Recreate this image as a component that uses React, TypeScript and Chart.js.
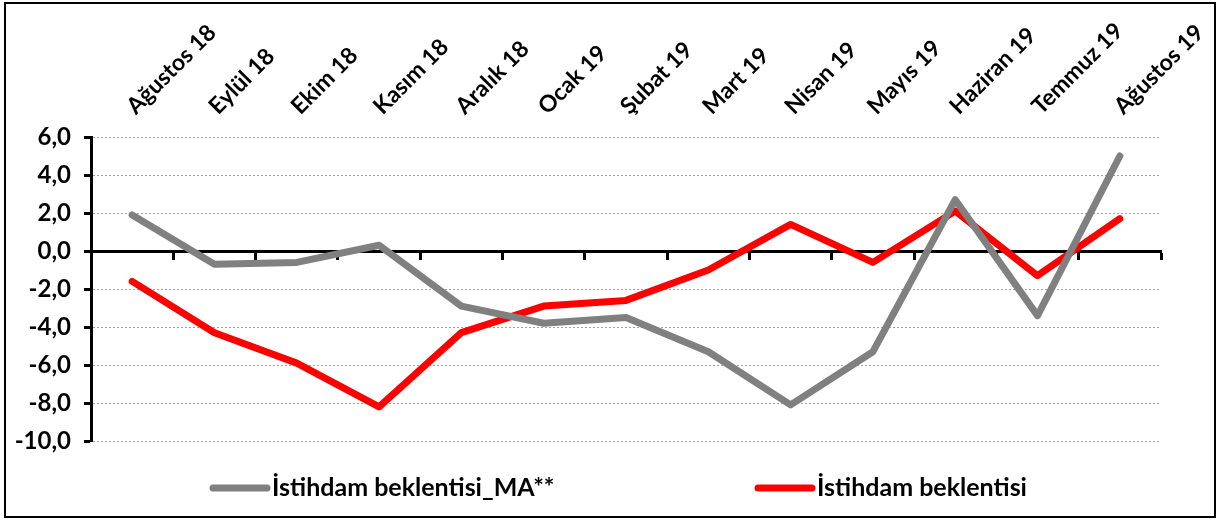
import React, { useEffect, useRef } from "react";
import { Chart, registerables } from "chart.js";

Chart.register(...registerables);

const categories = [
  "Ağustos 18", "Eylül 18", "Ekim 18", "Kasım 18", "Aralık 18", "Ocak 19",
  "Şubat 19", "Mart 19", "Nisan 19", "Mayıs 19", "Haziran 19", "Temmuz 19", "Ağustos 19",
];
const seriesMA = [1.9, -0.7, -0.6, 0.3, -2.9, -3.8, -3.5, -5.3, -8.1, -5.3, 2.7, -3.4, 5.0];
const seriesMain = [-1.6, -4.3, -5.9, -8.2, -4.3, -2.9, -2.6, -1.0, 1.4, -0.6, 2.1, -1.3, 1.7];
const seriesNames = ["İstihdam beklentisi_MA**", "İstihdam beklentisi"];
const yMin = -10;
const yMax = 6;
const yStep = 2;

const FONT = "Lato";

const legendPlugin = {
  id: "customLegend",
  afterDraw(chart: any) {
    const ctx = chart.ctx;
    const xs = [204, 749];
    const y = 484;
    ctx.save();
    chart.data.datasets.forEach((ds: any, i: number) => {
      const x = xs[i];
      ctx.lineCap = "round";
      ctx.lineWidth = 7;
      ctx.strokeStyle = ds.borderColor;
      ctx.beginPath();
      ctx.moveTo(x + 3, y);
      ctx.lineTo(x + 57, y);
      ctx.stroke();
      ctx.fillStyle = "#000";
      ctx.font = `bold 25px ${FONT}`;
      ctx.textBaseline = "middle";
      ctx.textAlign = "left";
      ctx.fillText(ds.label, x + 62, y);
    });
    ctx.restore();
  },
};

export default function App() {
  const ref = useRef<HTMLCanvasElement>(null);
  useEffect(() => {
    if (!ref.current) return;
    const chart = new Chart(ref.current, {
      type: "line",
      data: {
        labels: categories,
        datasets: [
          {
            label: seriesNames[0],
            data: seriesMA,
            borderColor: "#808080",
            backgroundColor: "#808080",
            borderWidth: 7,
            pointRadius: 0,
            borderCapStyle: "round",
            borderJoinStyle: "round",
            tension: 0,
          },
          {
            label: seriesNames[1],
            data: seriesMain,
            borderColor: "#ff0000",
            backgroundColor: "#ff0000",
            borderWidth: 7,
            pointRadius: 0,
            borderCapStyle: "round",
            borderJoinStyle: "round",
            tension: 0,
          },
        ],
      },
      options: {
        responsive: false,
        animation: false,
        devicePixelRatio: 1,
        layout: { padding: { left: 0, right: 53, top: 0, bottom: 75 } },
        plugins: { legend: { display: false }, tooltip: { enabled: false } },
        scales: {
          xTop: {
            type: "category",
            axis: "x",
            position: "top",
            labels: categories,
            offset: true,
            grid: { display: false, drawTicks: false },
            border: { display: false },
            ticks: {
              autoSkip: false,
              minRotation: 45,
              maxRotation: 45,
              padding: 17,
              labelOffset: 18,
              color: "#000",
              font: { family: FONT, size: 23, weight: "bold" },
            },
            afterFit: (s: any) => {
              s.height = 133;
              s.paddingLeft = 0;
              s.paddingRight = 0;
            },
          },
          x: {
            type: "category",
            position: { y: 0 },
            offset: true,
            ticks: { display: false },
            grid: {
              drawOnChartArea: false,
              drawTicks: true,
              tickLength: 7,
              tickWidth: 3,
              tickColor: "#000",
              offset: true,
            },
            border: { display: true, color: "#000", width: 3 },
            afterFit: (s: any) => {
              s.paddingLeft = 0;
              s.paddingRight = 0;
            },
          },
          y: {
            type: "linear",
            position: "left",
            min: yMin,
            max: yMax,
            ticks: {
              stepSize: yStep,
              padding: 13,
              color: "#000",
              font: { family: FONT, size: 24, weight: "bold" },
              callback: (v: any) => Number(v).toFixed(1).replace(".", ","),
            },
            grid: {
              color: "#a0a0a0",
              lineWidth: 1,
              tickLength: 7,
              tickWidth: 3,
              tickColor: "#000",
              tickBorderDash: [],
            },
            border: { display: true, color: "#000", width: 3, dash: [2, 2] },
            afterFit: (s: any) => {
              s.width = 85;
            },
          },
        },
      },
      plugins: [legendPlugin],
    } as any);
    return () => chart.destroy();
  }, []);

  return (
    <div
      style={{
        position: "absolute",
        left: 4,
        top: 2,
        width: 1208,
        height: 512,
        border: "2px solid #000",
        background: "#fff",
      }}
    >
      <canvas ref={ref} width={1208} height={512} style={{ display: "block" }} />
    </div>
  );
}
